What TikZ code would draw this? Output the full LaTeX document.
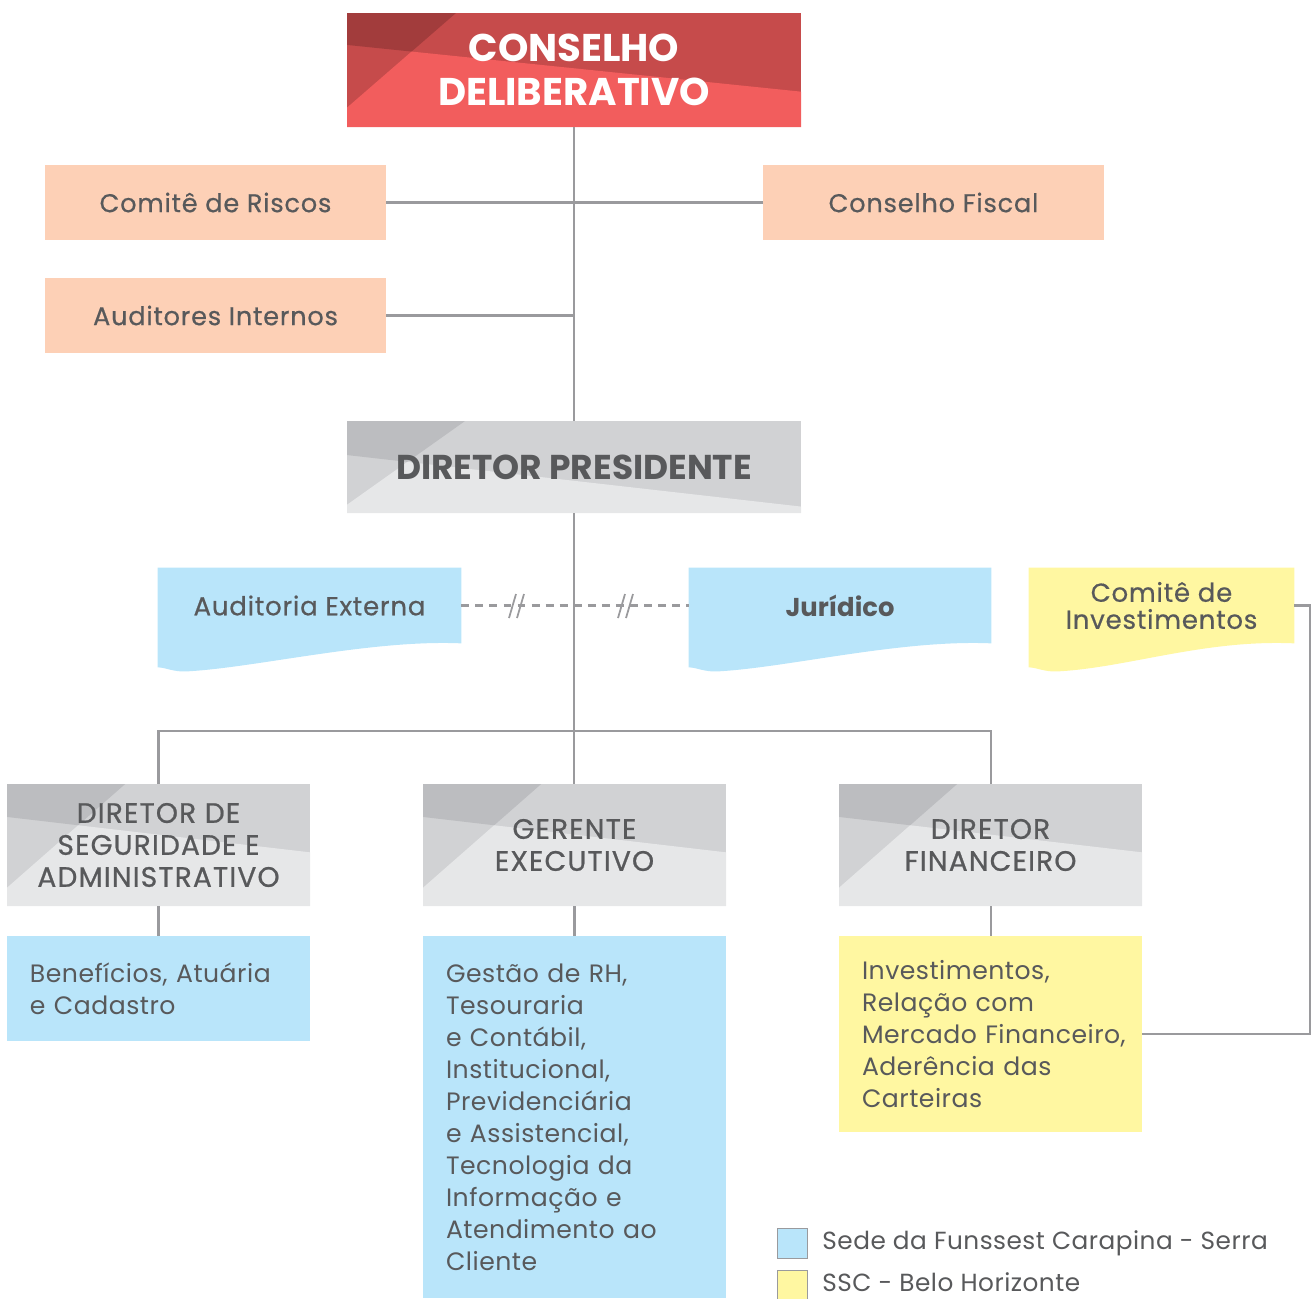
\documentclass[tikz,border=0pt]{standalone}
\usepackage{fontspec}
\setmainfont{Poppins}
\usetikzlibrary{calc,positioning,backgrounds}

\definecolor{redA}{HTML}{F25D5D}
\definecolor{redB}{HTML}{C64B4B}
\definecolor{redC}{HTML}{A23C3C}
\definecolor{grayA}{HTML}{E6E7E8}
\definecolor{grayB}{HTML}{D1D2D4}
\definecolor{grayC}{HTML}{BCBDC0}
\definecolor{peach}{HTML}{FDD0B6}
\definecolor{sky}{HTML}{B9E5FA}
\definecolor{lemon}{HTML}{FFF7A1}
\definecolor{txt}{HTML}{58595B}
\definecolor{wire}{HTML}{9A9A9D}

\def\ux{0.02cm}

\tikzset{
  box/.style={rectangle, inner sep=0pt, align=center, text=txt},
  tri/.style n args={6}{path picture={
    \path (path picture bounding box.north west) coordinate (nw)
          (path picture bounding box.north east) coordinate (ne)
          (path picture bounding box.south west) coordinate (sw)
          (path picture bounding box.south east) coordinate (se);
    \coordinate (d1) at ($(nw)!#1!(ne)$);
    \coordinate (d2) at ($(nw)!#2!(sw)$);
    \coordinate (b1) at ($(nw)!#3!(sw)$);
    \coordinate (b2) at ($(ne)!#4!(se)$);
    \coordinate (xx) at (intersection of d1--d2 and b1--b2);
    \fill[#5] (nw) -- (d1) -- (xx) -- (b1) -- cycle;
    \fill[#6] (xx) -- (b2) -- (se) -- (sw) -- (d2) -- cycle;
  }},
  head/.style={box, fill=grayB, minimum width=303*\ux, minimum height=122*\ux,
    tri={0.39}{0.85}{0.27}{0.56}{grayC}{grayA},
    font=\fontsize{16}{18.2}\selectfont\addfontfeatures{LetterSpace=4,FakeBold=0.7}},
  peachbox/.style={box, fill=peach, minimum width=341*\ux, minimum height=75*\ux,
    font=\fontsize{14.6}{18}\selectfont\addfontfeatures{LetterSpace=3,FakeBold=0.5}},
  doc/.style={box, minimum height=75*\ux,
    font=\fontsize{14.8}{15.4}\selectfont\addfontfeatures{LetterSpace=3,FakeBold=0.5}},
  detail/.style={box, align=left, minimum width=303*\ux, inner xsep=23*\ux,
    text width=257*\ux, font=\fontsize{14.3}{18.2}\selectfont\addfontfeatures{LetterSpace=2}},
  legtext/.style={inner sep=0pt, text=txt,
    font=\fontsize{14.1}{16}\selectfont\addfontfeatures{LetterSpace=2}},
  link/.style={draw=wire, line width=1.15pt},
  legsq/.style={rectangle, draw=wire, line width=0.6pt, minimum size=30*\ux, inner sep=0pt},
}

\newcommand{\wave}[2]{%
  \fill[#2] (#1.north west) -- (#1.north east) -- (#1.south east)
    .. controls +(-90,-4) and +(70,-4) .. ($(#1.south west)+(30,28)$)
    .. controls +(-14,1) and +(8,0) .. ($(#1.south west)+(0,24)$) -- cycle;}

\begin{document}
\begin{tikzpicture}[x=0.02cm, y=-0.02cm]
\useasboundingbox (0,0) rectangle (1314,1298);

% top
\node[box, fill=redB, minimum width=454*\ux, minimum height=114*\ux, text=white,
  tri={0.24}{0.83}{0.28}{0.69}{redC}{redA},
  font=\fontsize{22}{25}\selectfont\bfseries] (cd) at (574,70) {CONSELHO\\DELIBERATIVO};
\node[peachbox] (cr) at (215.5,202.5) {Comitê de Riscos};
\node[peachbox] (cf) at (933.5,202.5) {Conselho Fiscal};
\node[peachbox] (ai) at (215.5,315.5) {Auditores Internos};
\node[box, fill=grayB, minimum width=454*\ux, minimum height=92*\ux,
  tri={0.26}{0.91}{0.37}{0.93}{grayC}{grayA},
  font=\fontsize{19.6}{20}\selectfont\bfseries] (dp) at (574,467) {DIRETOR PRESIDENTE};

% middle
\node[doc, minimum width=303*\ux] (ae) at (309.5,605.5) {Auditoria Externa};
\node[doc, minimum width=302*\ux, font=\fontsize{14.7}{16}\selectfont\bfseries] (ju) at (840,605.5) {Jurídico};
\node[doc, minimum width=265*\ux] (ci) at (1161.5,605.5) {Comitê de\\Investimentos};
\begin{scope}[on background layer]
\wave{ae}{sky}
\wave{ju}{sky}
\wave{ci}{lemon}
\end{scope}

% directors
\node[head] (ds) at (158.5,845) {DIRETOR DE\\SEGURIDADE E\\ADMINISTRATIVO};
\node[head] (ge) at (574.5,845) {GERENTE\\EXECUTIVO};
\node[head] (df) at (990.5,845) {DIRETOR\\FINANCEIRO};

\node[detail, fill=sky, minimum height=105*\ux] (bc) at (158.5,988.5)
  {Benefícios, Atuária\\e Cadastro};
\node[detail, fill=sky, minimum height=362*\ux] (gt) at (574.5,1117)
  {Gestão de RH,\\Tesouraria\\e Contábil,\\Institucional,\\Previdenciária\\e Assistencial,\\Tecnologia da\\Informação e\\Atendimento ao\\Cliente};
\node[detail, fill=lemon, minimum height=196*\ux] (inv) at (990.5,1034)
  {Investimentos,\\Relação com\\\mbox{Mercado Financeiro,}\\Aderência das\\Carteiras};

% links
\draw[link] (cd) -- (dp);
\draw[link] (cr) -- (cf);
\draw[link] (ai.east) -- (ai.east -| cd.south);
\draw[link] (dp.south) -- (dp.south |- ge.north);
\draw[link] (ds.north) -- ++(0,-53) -| (df.north);
\foreach \a/\b in {ds/bc, ge/gt, df/inv}{\draw[link] (\a) -- (\b);}
\draw[link] (ci.east) -- ++(16,0) |- (inv.east);
\draw[wire, line width=1.15pt, dash pattern=on 4.5pt off 3.5pt] (ae.east) -- (ju.west);
\foreach \x in {518,627}{
  \draw[wire, line width=1pt] (\x-9,618) -- (\x-2,594);
  \draw[wire, line width=1pt] (\x-1,618) -- (\x+6,594);
}

% legend
\node[legsq, fill=sky] (lg1) at (792.5,1243.5) {};
\node[legsq, fill=lemon] (lg2) at (792.5,1285.5) {};
\node[legtext, right=0.28cm of lg1] (lt1) {Sede da Funssest Carapina - Serra};
\node[legtext, right=0.28cm of lg2, yshift=0.06cm] (lt2) {SSC - Belo Horizonte};
\end{tikzpicture}
\end{document}
